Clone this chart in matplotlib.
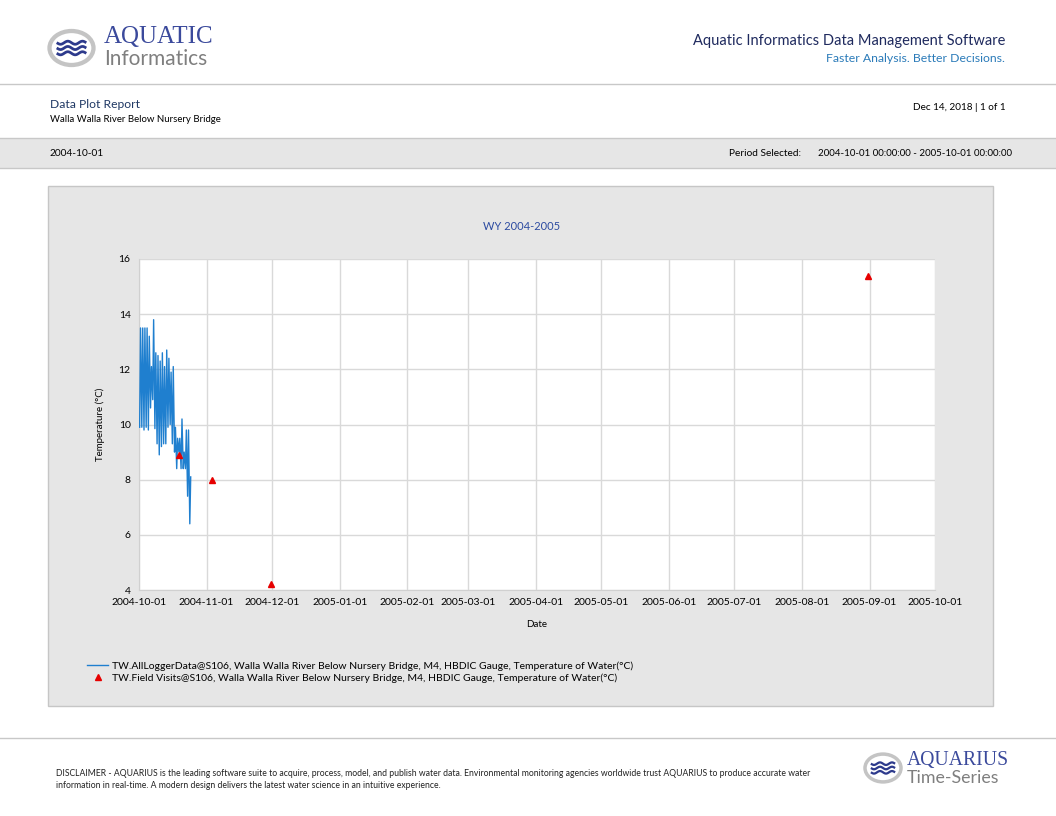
import numpy as np
import pandas as pd
import matplotlib as mpl
mpl.use('Agg')
import matplotlib.pyplot as plt
import matplotlib.dates as mdates
from matplotlib.patches import Rectangle, Circle
from matplotlib.lines import Line2D

plt.rcParams['font.family'] = ['Lato', 'DejaVu Sans']

# logger data, daily low / high from 2004-10-01 (deg C)
logger_start = '2004-10-01'
logger_min = [9.9, 9.9, 9.8, 9.9, 9.8, 10.6, 10.9, 9.85, 9.3, 8.9, 9.2, 9.3,
              9.3, 9.9, 10.0, 9.3, 9.0, 8.4, 9.0, 8.4, 8.4, 8.4, 7.4, 6.4]
logger_max = [13.5, 13.5, 13.5, 13.5, 13.2, 12.1, 13.8, 12.6, 12.5, 12.3, 12.6, 12.1,
              12.7, 12.4, 11.9, 12.1, 9.9, 9.5, 9.5, 10.2, 9.0, 9.8, 9.8, 8.1]

# field visits
visit_dates = ['2004-10-19 07:00', '2004-11-03 12:00', '2004-11-30 14:00', '2005-08-31 10:00']
visit_values = [8.9, 8.0, 4.2, 15.4]

x_ticks = pd.date_range('2004-10-01', '2005-10-01', freq='MS')
y_ticks = [4, 6, 8, 10, 12, 14, 16]

series_label = ('TW.AllLoggerData@S106, Walla Walla River Below Nursery Bridge, M4, '
                'HBDIC Gauge, Temperature of Water(\u00b0C)')
visit_label = ('TW.Field Visits@S106, Walla Walla River Below Nursery Bridge, M4, '
               'HBDIC Gauge, Temperature of Water(\u00b0C)')

W, H = 1056, 816
fig = plt.figure(figsize=(W / 100, H / 100), dpi=100)
fig.patch.set_facecolor('white')


def fx(x):
    return x / W


def fy(y):
    return 1 - y / H


def rect(x0, y0, x1, y1, fc, ec='none', lw=0.0, z=0):
    fig.patches.append(Rectangle((fx(x0), fy(y1)), fx(x1 - x0), (y1 - y0) / H,
                                 transform=fig.transFigure, facecolor=fc,
                                 edgecolor=ec, linewidth=lw, zorder=z))


def hline(y, x0=0, x1=W, color='#c8c8c8', lw=1.0):
    fig.lines.append(Line2D([fx(x0), fx(x1)], [fy(y), fy(y)], transform=fig.transFigure,
                            color=color, linewidth=lw))


def logo(cx, cy, r):
    fig.patches.append(Circle((fx(cx), fy(cy)), r / W, transform=fig.transFigure,
                              facecolor='white', edgecolor='#c4c4c4', linewidth=r * 0.14))
    # crude waves for the logo
    t = np.linspace(-0.62, 0.62, 60)
    for k in (-1, 0, 1):
        xs = cx + t * r
        ys = cy + k * r * 0.24 + np.sin(t * 3 * np.pi) * r * 0.07
        fig.lines.append(Line2D(fx(xs), fy(ys), transform=fig.transFigure,
                                color='#2d3a8c', linewidth=r * 0.09))


# header
logo(71.5, 48, 22)
fig.text(fx(104), fy(37), 'AQUATIC', family='Liberation Serif', fontsize=18,
         color='#3b4a9c', va='center', ha='left')
fig.text(fx(104), fy(59), 'Informatics', fontsize=15, color='#7f7f7f',
         va='center', ha='left')
fig.text(fx(1005), fy(41), 'Aquatic Informatics Data Management Software', fontsize=10.5,
         color='#1f2a5e', ha='right', va='center')
fig.text(fx(1005), fy(59), 'Faster Analysis. Better Decisions.', fontsize=8.8,
         color='#2b7bb9', ha='right', va='center')
hline(84)

fig.text(fx(50), fy(104), 'Data Plot Report', fontsize=8.7, color='#1f3864', va='center')
fig.text(fx(50), fy(120), 'Walla Walla River Below Nursery Bridge', fontsize=6.9,
         color='black', va='center')
fig.text(fx(1006), fy(107), 'Dec 14, 2018 | 1 of 1', fontsize=7.2, color='black',
         ha='right', va='center')

rect(0, 138, W, 168, '#e6e6e6', z=0)
hline(138)
hline(168)
fig.text(fx(50), fy(153), '2004-10-01', fontsize=7.3, color='black', va='center')
fig.text(fx(729), fy(153), 'Period Selected:', fontsize=7.3, color='black', va='center')
fig.text(fx(818), fy(153), '2004-10-01 00:00:00 - 2005-10-01 00:00:00', fontsize=7.0,
         color='black', va='center')

# chart panel
rect(48, 186, 993, 706, '#e6e6e6', ec='#c6c6c6', lw=1.0, z=0)

ax = fig.add_axes([fx(139), fy(590), fx(935 - 139), (590 - 259) / H])
ax.set_facecolor('white')
ax.set_zorder(2)

days = pd.date_range(logger_start, periods=len(logger_min), freq='D')
times, temps = [], []
for d, lo, hi in zip(days, logger_min, logger_max):
    times += [d + pd.Timedelta(hours=7), d + pd.Timedelta(hours=17)]
    temps += [lo, hi]
ax.plot(times, temps, color='#1f7fcf', linewidth=1.0, label=series_label, zorder=3)
ax.plot(pd.to_datetime(visit_dates), visit_values, linestyle='none', marker='^',
        color='#e60000', markersize=5, label=visit_label, zorder=4)

ax.set_xlim(x_ticks[0], x_ticks[-1])
ax.set_ylim(4, 16)
ax.set_xticks(x_ticks)
ax.xaxis.set_major_formatter(mdates.DateFormatter('%Y-%m-%d'))
ax.set_yticks(y_ticks)
ax.grid(True, color='#d9d9d9', linewidth=1.0)
ax.set_axisbelow(True)
for side in ('top', 'right'):
    ax.spines[side].set_visible(False)
for side in ('left', 'bottom'):
    ax.spines[side].set_color('#d0d0d0')
ax.tick_params(length=0, labelsize=7.5, colors='black', pad=6)

ax.set_title('WY 2004-2005', fontsize=8, color='#2b4aa0', pad=21)
ax.title.set_position((0.48, 1.0))
ax.set_xlabel('Date', fontsize=7, labelpad=9)
ax.set_ylabel('Temperature (\u00b0C)', fontsize=7, labelpad=10)

fig.legend(loc='upper left', bbox_to_anchor=(fx(78), fy(652)), frameon=False,
           fontsize=7.5, handlelength=2.0, handletextpad=0.4, labelspacing=0.25)

# footer
hline(738)
fig.text(fx(56), fy(774), 'DISCLAIMER - AQUARIUS is the leading software suite to acquire, process, '
         'model, and publish water data. Environmental monitoring agencies worldwide trust '
         'AQUARIUS to produce accurate water', fontsize=6.2, color='#222222', va='center')
fig.text(fx(56), fy(786), 'information in real-time. A modern design delivers the latest water '
         'science in an intuitive experience.', fontsize=6.2, color='#222222', va='center')
logo(883, 768, 18)
fig.text(fx(907), fy(760), 'AQUARIUS', family='Liberation Serif', fontsize=14.2,
         color='#3b4a9c', va='center', ha='left')
fig.text(fx(907), fy(778), 'Time-Series', fontsize=12.8, color='#7f7f7f',
         va='center', ha='left')

fig.savefig('out.png', dpi=100)
